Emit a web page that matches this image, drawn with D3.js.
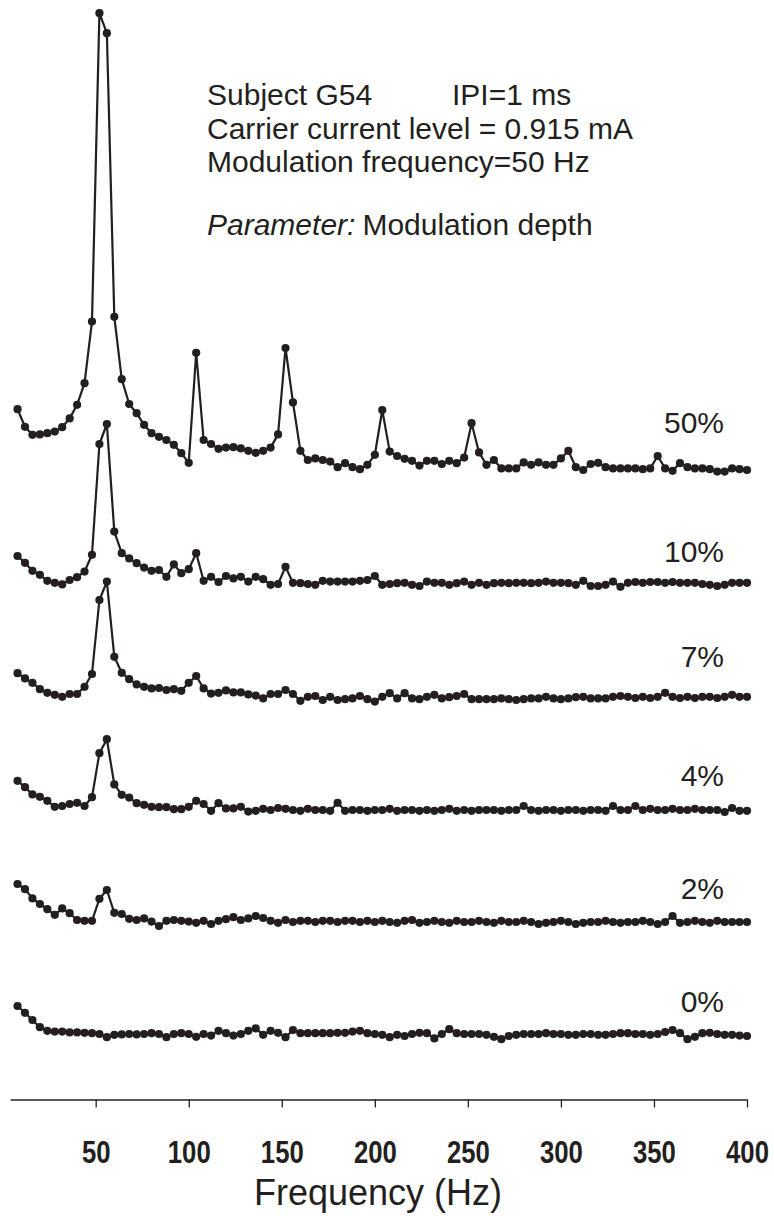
<!DOCTYPE html>
<html>
<head>
<meta charset="utf-8">
<script src="https://cdn.jsdelivr.net/npm/d3@7"></script>
<style>
  html, body { margin: 0; padding: 0; background: #fff; }
  svg { display: block; }
  text { fill: #231f20; font-family: "Liberation Sans", Arial, Helvetica, sans-serif; }
</style>
</head>
<body>
<svg id="chart" width="774" height="1216"></svg>
<script>
// Spectral bins (Hz)
const freqs = d3.range(8, 401, 4);

// Modulation depths, bottom trace first
const depths = ["0%", "2%", "4%", "7%", "10%", "50%"];

// Spectral amplitude (arbitrary units) per bin for each modulation depth
const amp0 = [9.5,7.8,6.0,4.2,3.3,3.1,3.1,2.9,2.9,2.8,2.7,2.5,1.7,2.3,2.4,2.5,2.4,2.5,2.7,2.5,
  1.7,2.5,2.7,2.5,1.8,2.5,2.1,3.3,2.7,2.1,2.5,3.3,3.9,2.3,3.3,2.8,1.7,3.5,2.7,2.7,
  2.7,2.7,2.7,2.8,2.8,3.1,3.3,2.7,2.5,2.3,1.7,2.3,2.0,2.5,2.8,2.7,1.4,2.5,3.7,2.7,
  2.5,2.5,2.5,2.3,1.8,1.2,2.0,2.3,2.5,2.5,2.5,2.7,2.5,2.5,2.3,2.3,2.5,2.5,2.3,2.3,
  2.5,2.7,2.7,2.5,2.5,2.3,2.5,3.0,3.5,2.7,1.2,1.8,2.7,2.8,2.5,2.3,2.3,2.1,2.0];

const amp2 = [11.5,10.2,7.9,6.5,5.2,3.8,5.4,4.2,2.5,2.3,2.3,7.8,10.0,4.3,4.0,2.8,2.5,2.9,2.1,1.0,
  2.3,2.5,2.3,2.1,1.8,2.3,1.5,2.3,2.7,3.2,2.5,2.9,3.5,3.0,2.3,1.8,2.5,2.0,2.3,2.3,
  2.0,2.3,2.3,2.0,2.3,2.3,2.0,2.3,2.0,2.3,2.0,1.8,2.3,2.5,1.8,2.0,2.3,2.0,1.8,2.3,
  2.0,2.0,2.3,2.0,1.8,2.3,2.0,2.0,2.3,2.0,1.5,1.8,2.0,2.3,2.0,1.5,1.8,2.0,2.0,2.3,
  2.0,1.8,2.0,2.0,2.3,2.0,1.5,2.0,3.5,1.8,2.0,2.3,2.0,1.8,2.3,2.0,2.0,2.0,2.0];

const amp4 = [8.8,7.2,5.4,4.8,3.8,2.3,2.5,3.0,3.3,2.5,4.7,15.7,19.2,7.9,5.3,4.6,3.2,2.8,2.3,2.2,
  2.2,1.7,1.7,2.3,3.8,3.0,1.3,3.2,1.9,1.9,2.3,1.1,1.3,1.8,1.5,2.0,1.8,1.5,1.3,1.8,
  1.5,1.5,1.3,3.3,1.3,1.5,1.5,1.3,1.5,1.5,1.8,1.3,1.5,1.5,1.3,1.5,1.3,1.5,1.8,1.3,
  1.5,1.3,1.5,1.5,1.5,1.3,1.5,1.5,2.5,1.5,1.3,1.5,1.5,1.3,1.5,1.5,1.3,1.5,1.5,1.3,
  2.5,1.5,1.5,2.5,1.5,1.8,1.5,1.5,1.8,1.5,1.5,1.8,1.5,1.5,1.5,1.0,2.0,1.3,1.3];

const amp7 = [7.2,5.9,4.8,3.2,2.3,1.8,1.3,2.0,2.0,3.8,7.0,25.5,30.1,11.3,7.3,5.7,4.4,3.8,3.4,3.5,
  3.0,3.2,2.8,4.8,6.5,3.4,2.1,2.3,2.9,2.4,2.4,1.9,1.6,0.9,2.0,2.0,3.0,2.0,0.3,1.3,
  1.5,0.5,1.3,0.5,0.7,0.9,1.5,0.7,0.1,1.3,2.2,0.9,2.2,0.9,0.7,1.3,1.8,0.9,1.2,1.5,
  2.0,0.7,0.7,0.7,0.7,0.9,0.7,0.5,0.7,0.9,0.9,1.3,0.9,0.7,0.9,1.2,1.3,0.9,0.9,0.9,
  1.3,1.5,1.3,1.0,1.3,1.0,1.3,2.3,1.3,1.0,1.3,1.0,1.3,1.3,1.0,1.3,1.8,1.3,1.3];

const amp10 = [8.0,6.3,4.3,3.3,1.8,1.3,0.9,2.0,2.7,4.1,8.3,36.0,41.0,14.1,8.7,7.4,6.2,5.1,4.3,4.5,
  2.8,5.9,3.7,4.7,8.7,1.8,2.8,1.5,3.0,2.4,2.8,1.6,2.8,2.2,0.8,1.0,5.3,1.3,1.2,1.0,
  0.8,1.8,1.6,1.6,1.6,1.6,1.8,2.0,3.0,0.8,1.0,1.2,1.3,0.8,0.5,1.6,1.3,1.3,0.8,1.2,
  1.6,0.8,1.3,0.8,1.2,1.3,1.2,1.3,1.3,1.2,1.3,1.6,1.3,1.3,1.2,0.8,1.8,0.5,0.5,0.8,
  1.6,0.3,1.3,1.5,1.3,1.5,1.5,1.3,1.5,1.3,1.3,1.3,1.0,0.8,0.5,0.8,1.3,1.3,1.3];

const amp50 = [16.2,11.8,9.8,9.9,10.2,10.6,11.7,13.9,17.3,22.7,38.1,115.2,110.2,39.3,23.7,17.5,15.2,12.3,10.2,9.3,
  8.5,7.3,5.2,2.8,30.3,8.5,7.5,6.3,6.6,6.7,6.4,5.8,5.3,5.8,6.6,9.9,31.5,17.9,5.8,3.5,
  3.9,3.5,3.1,1.7,2.7,1.7,1.2,2.3,4.8,16.0,5.6,4.5,3.8,3.3,2.1,3.3,3.3,2.5,3.3,2.7,
  4.1,12.7,5.4,2.3,3.5,1.4,1.4,1.4,2.9,2.3,2.9,2.3,2.3,3.9,5.8,1.7,1.0,2.5,2.8,1.7,
  1.4,1.4,1.4,1.4,1.2,1.4,4.5,1.4,0.8,2.7,1.7,1.4,1.4,1.2,0.6,0.6,1.4,1.2,1.0];

const series = [amp0, amp2, amp4, amp7, amp10, amp50];

// Frequency axis ticks (Hz)
const xTicks = [50, 100, 150, 200, 250, 300, 350, 400];

// Annotation text
const headerLines = [
  { parts: [{ t: "Subject G54" }] },
  { parts: [{ t: "Carrier current level = 0.915 mA" }] },
  { parts: [{ t: "Modulation frequency=50 Hz" }] },
  { parts: [{ t: "Parameter:", italic: true }, { t: "Modulation depth", gap: 7 }] }
];
const ipiText = "IPI=1 ms";
const xTitle = "Frequency (Hz)";

// ---- layout ----
const ink = "#231f20";
const traceStep = 28.5;          // vertical separation between stacked traces (amplitude units)
const labelLift = [32, 31, 30, 35, 26, 41]; // px above each trace's zero line
const axisY = 1099.5;

const svg = d3.select("#chart");

const x = d3.scaleLinear().domain([4, 400]).range([10.1, 747]);
const y = d3.scaleLinear().domain([0, 260]).range([1044, 4]);

// Stacked spectra
const line = d3.line().x(d => x(d.f)).y(d => y(d.v));

series.forEach((vals, j) => {
  const pts = vals.map((v, i) => ({ f: freqs[i], v: v + j * traceStep }));
  const g = svg.append("g").attr("class", "trace");
  g.append("path")
    .datum(pts)
    .attr("d", line)
    .attr("fill", "none")
    .attr("stroke", ink)
    .attr("stroke-width", 2.2)
    .attr("stroke-linejoin", "round");
  g.selectAll("circle")
    .data(pts)
    .join("circle")
    .attr("cx", d => x(d.f))
    .attr("cy", d => y(d.v))
    .attr("r", 4.1)
    .attr("fill", ink);

  svg.append("text")
    .attr("x", 724)
    .attr("y", y(j * traceStep) - labelLift[j])
    .attr("text-anchor", "end")
    .attr("font-size", 30)
    .text(depths[j]);
});

// Frequency axis
const axis = d3.axisBottom(x)
  .tickValues(xTicks)
  .tickSize(8)
  .tickSizeOuter(0)
  .tickPadding(0)
  .tickFormat(d3.format("d"));

const ga = svg.append("g")
  .attr("transform", `translate(0,${axisY})`)
  .call(axis);
ga.select(".domain").attr("stroke", ink).attr("stroke-width", 1.3);
ga.selectAll(".tick line").attr("stroke", ink).attr("stroke-width", 1.3);
// condensed bold tick labels
ga.selectAll(".tick text")
  .attr("fill", ink)
  .attr("font-family", "'Liberation Sans', Arial, sans-serif")
  .attr("font-weight", "bold")
  .attr("font-size", 31)
  .attr("y", 0)
  .attr("dy", 0)
  .attr("transform", "translate(0,63.5) scale(0.83,1)");

svg.append("text")
  .attr("x", 378)
  .attr("y", 1205)
  .attr("text-anchor", "middle")
  .attr("font-size", 36)
  .text(xTitle);

// Annotation block
const hx = 207;
const baselines = [105, 139, 172, 235];
headerLines.forEach((ln, k) => {
  const t = svg.append("text")
    .attr("x", hx)
    .attr("y", baselines[k])
    .attr("font-size", 30);
  ln.parts.forEach(p => {
    const ts = t.append("tspan").text(p.t);
    if (p.italic) ts.attr("font-style", "italic");
    if (p.gap) ts.attr("dx", p.gap);
  });
});
svg.append("text")
  .attr("x", 452)
  .attr("y", baselines[0])
  .attr("font-size", 30)
  .text(ipiText);
</script>
</body>
</html>
